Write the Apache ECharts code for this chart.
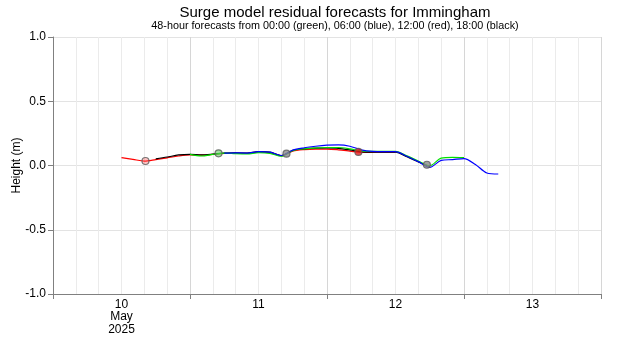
<!DOCTYPE html>
<html>
<head>
<meta charset="utf-8">
<script src="https://cdn.jsdelivr.net/npm/echarts@6/dist/echarts.min.js"></script>
<style>
  html, body { margin: 0; padding: 0; background: #fff; }
  #chart { width: 620px; height: 350px; }
</style>
</head>
<body>
<div id="chart"></div>
<script>
// hours are counted from 10 May 2025 00:00, one value every 2 hours
const stepHours = 2;
const redStart = 12;   // 12:00 run
const blackStart = 18; // 18:00 run
const greenStart = 24; // 00:00 run
const blueStart = 30;  // 06:00 run

const redVals = [0.062, 0.048, 0.034, 0.046, 0.060, 0.074, 0.082, 0.080, 0.086, 0.094, 0.095, 0.094, 0.104,
  0.100, 0.076, 0.112, 0.124, 0.128, 0.128, 0.122, 0.112, 0.102, 0.103, 0.104, 0.104];
const blackVals = [0.052, 0.066, 0.082, 0.087, 0.082, 0.088, 0.097, 0.098, 0.096, 0.108, 0.104, 0.076, 0.118,
  0.130, 0.135, 0.136, 0.134, 0.122, 0.106, 0.104, 0.104, 0.104, 0.068, 0.028, -0.010];
const greenVals = [0.086, 0.074, 0.086, 0.096, 0.092, 0.090, 0.100, 0.095, 0.072, 0.116, 0.130, 0.136, 0.140,
  0.140, 0.130, 0.114, 0.110, 0.110, 0.110, 0.075, 0.035, -0.002, 0.058, 0.064, 0.062];
const blueVals = [0.096, 0.098, 0.097, 0.108, 0.104, 0.078, 0.120, 0.138, 0.150, 0.158, 0.160, 0.150, 0.122,
  0.110, 0.108, 0.108, 0.072, 0.030, -0.015, 0.040, 0.046, 0.054, 0.008, -0.058, -0.066];

// high water markers
const hwHours = [16.2, 29.0, 40.9, 53.5, 65.5];
const hwVals = [0.035, 0.095, 0.092, 0.106, 0.006];

// day labels sit at noon of each day
const dayLabels = { 12: '10\nMay\n2025', 36: '11', 60: '12', 84: '13' };

const markerFills = ['rgba(255,90,90,0.45)', 'rgba(90,200,90,0.7)', '#8a8a8a', '#e02020', '#8a8a8a'];
const font = 'Liberation Sans, Arial, sans-serif';

function toPairs(start, vals) {
  return vals.map((v, i) => [start + i * stepHours, v]);
}

function lineSeries(name, color, start, vals) {
  return {
    name: name,
    type: 'line',
    xAxisIndex: 0,
    data: toPairs(start, vals),
    showSymbol: false,
    smooth: 0.3,
    lineStyle: { color: color, width: 1.2 },
    itemStyle: { color: color },
    silent: true
  };
}

const chart = echarts.init(document.getElementById('chart'));
chart.setOption({
  animation: false,
  textStyle: { fontFamily: font },
  title: {
    text: 'Surge model residual forecasts for Immingham',
    subtext: '48-hour forecasts from 00:00 (green), 06:00 (blue), 12:00 (red), 18:00 (black)',
    left: 330,
    top: 0,
    textAlign: 'center',
    itemGap: 1,
    textStyle: { fontSize: 15, fontWeight: 'normal', color: '#000', fontFamily: font },
    subtextStyle: { fontSize: 10.8, color: '#000', fontFamily: font }
  },
  grid: { left: 53, right: 19, top: 37, bottom: 56, outerBoundsMode: 'none', containLabel: false },
  xAxis: [{
    type: 'value', min: 0, max: 96, interval: 4, position: 'bottom',
    axisLine: { show: true, onZero: false, lineStyle: { color: '#808080' } },
    axisTick: { show: false },
    axisLabel: { show: false },
    splitLine: {
      show: true,
      lineStyle: { color: ['#d6d6d6', '#ebebeb', '#ebebeb', '#ebebeb', '#ebebeb', '#ebebeb'], width: 1 }
    }
  }, {
    type: 'value', min: 0, max: 96, interval: 24, position: 'bottom',
    axisLine: { show: false, onZero: false },
    axisTick: { show: true, length: 5, lineStyle: { color: '#808080' } },
    axisLabel: { show: false },
    splitLine: { show: false }
  }, {
    type: 'value', min: 0, max: 96, interval: 12, position: 'bottom',
    axisLine: { show: false, onZero: false },
    axisTick: { show: false },
    splitLine: { show: false },
    axisLabel: {
      show: true, margin: 4, fontSize: 12, lineHeight: 12.5, color: '#000', fontFamily: font,
      formatter: v => dayLabels[v] || ''
    }
  }],
  yAxis: {
    type: 'value', min: -1, max: 1, interval: 0.5,
    name: 'Height (m)',
    nameLocation: 'middle',
    nameGap: 30,
    nameMoveOverlap: false,
    nameTextStyle: { fontSize: 12, color: '#000', fontFamily: font },
    axisLine: { show: true, onZero: false, lineStyle: { color: '#808080' } },
    axisTick: { show: true, length: 5, lineStyle: { color: '#808080' } },
    axisLabel: { margin: 7, fontSize: 12, color: '#000', fontFamily: font, formatter: v => v.toFixed(1) },
    splitLine: { show: true, lineStyle: { color: '#e3e3e3' } }
  },
  series: [
    lineSeries('12:00', '#ff0000', redStart, redVals),
    lineSeries('18:00', '#000000', blackStart, blackVals),
    lineSeries('00:00', '#00e000', greenStart, greenVals),
    lineSeries('06:00', '#0000ff', blueStart, blueVals),
    {
      name: 'high water',
      type: 'scatter',
      xAxisIndex: 0,
      symbol: 'circle',
      symbolSize: 7,
      z: 5,
      silent: true,
      data: hwHours.map((h, i) => ({
        value: [h, hwVals[i]],
        itemStyle: { color: markerFills[i], borderColor: '#5a5a5a', borderWidth: 1.2 }
      }))
    }
  ]
});
</script>
</body>
</html>
